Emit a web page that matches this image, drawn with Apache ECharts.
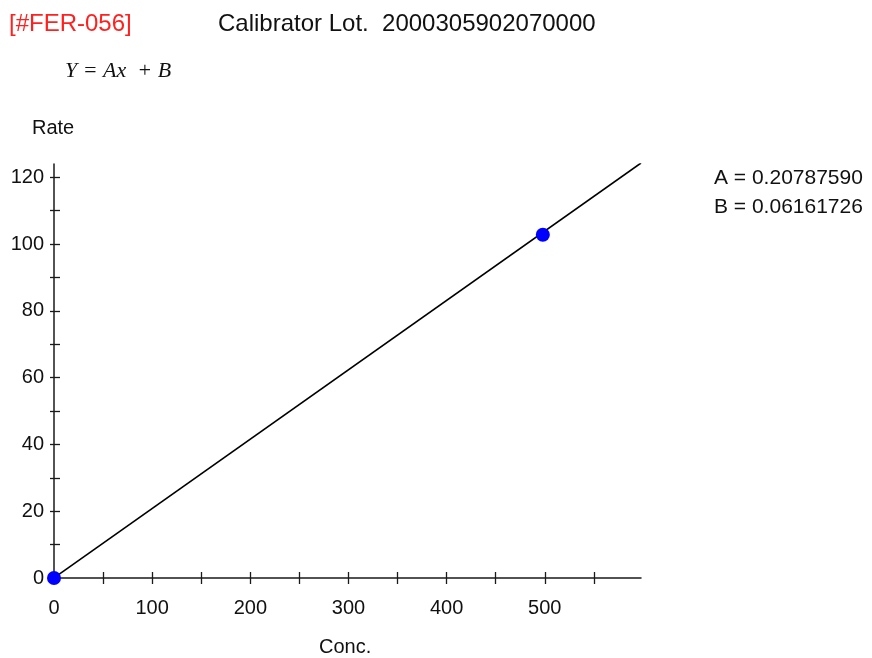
<!DOCTYPE html>
<html>
<head>
<meta charset="utf-8">
<script src="https://cdn.jsdelivr.net/npm/echarts@6/dist/echarts.min.js"></script>
<style>
  html, body { margin: 0; padding: 0; background: #fff; }
  #main { width: 872px; height: 658px; }
</style>
</head>
<body>
<div id="main"></div>
<script>
// calibration points (Conc., Rate)
var calX = [0, 498];
var calY = [0, 102.8];
// fitted line Y = Ax + B, end points
var fitX = [0, 598];
var fitY = [0.06, 124.3];
// ticks and labels
var xTicks = [0, 50, 100, 150, 200, 250, 300, 350, 400, 450, 500, 550];
var xLabels = [0, 100, 200, 300, 400, 500];
var yTicks = [0, 10, 20, 30, 40, 50, 60, 70, 80, 90, 100, 110, 120];
var yLabels = [0, 20, 40, 60, 80, 100, 120];
var coefA = '0.20787590';
var coefB = '0.06161726';

var font = '"Liberation Sans", Arial, sans-serif';
var axisColor = '#1a1a1a';

function pairs(xs, ys) {
  return xs.map(function (x, i) { return [x, ys[i]]; });
}

var myChart = echarts.init(document.getElementById('main'));

var xBase = { type: 'value', min: 0, max: 598, position: 'bottom', splitLine: { show: false } };
var yBase = { type: 'value', min: 0, max: 124, position: 'left', splitLine: { show: false } };

myChart.setOption({
  animation: false,
  backgroundColor: '#fff',
  grid: { left: 54, right: 231, top: 164, bottom: 80 },
  xAxis: [
    Object.assign({}, xBase, {
      axisLine: { show: true, lineStyle: { color: axisColor, width: 1.5 } },
      axisTick: { show: true, inside: false, length: 6, customValues: xTicks, lineStyle: { color: axisColor, width: 1.3 } },
      axisLabel: { show: true, customValues: xLabels, margin: 20, color: '#111', fontFamily: font, fontSize: 20 }
    }),
    Object.assign({}, xBase, {
      axisLine: { show: false },
      axisTick: { show: true, inside: true, length: 6, customValues: xTicks, lineStyle: { color: axisColor, width: 1.3 } },
      axisLabel: { show: false }
    })
  ],
  yAxis: [
    Object.assign({}, yBase, {
      axisLine: { show: true, lineStyle: { color: axisColor, width: 1.5 } },
      axisTick: { show: true, inside: false, length: 4, customValues: yTicks, lineStyle: { color: axisColor, width: 1.3 } },
      axisLabel: { show: true, customValues: yLabels, margin: 10, color: '#111', fontFamily: font, fontSize: 20 }
    }),
    Object.assign({}, yBase, {
      axisLine: { show: false },
      axisTick: { show: true, inside: true, length: 6, customValues: yTicks, lineStyle: { color: axisColor, width: 1.3 } },
      axisLabel: { show: false }
    })
  ],
  series: [
    {
      name: 'fit',
      type: 'line',
      data: pairs(fitX, fitY),
      showSymbol: false,
      symbol: 'none',
      lineStyle: { color: '#000', width: 1.6 },
      clip: true,
      z: 2
    },
    {
      name: 'points',
      type: 'scatter',
      data: pairs(calX, calY),
      symbol: 'circle',
      symbolSize: 14,
      itemStyle: { color: '#0000ff', opacity: 1 },
      clip: false,
      z: 3
    }
  ],
  graphic: [
    { type: 'text', left: 9, top: 12, style: { text: '[#FER-056]', fill: '#ff2020', font: '24px ' + font } },
    { type: 'text', left: 218, top: 12, style: { text: 'Calibrator Lot.  2000305902070000', fill: '#111', font: '24px ' + font } },
    { type: 'text', left: 65, top: 60, style: { text: 'Y = Ax  + B', fill: '#111', font: 'italic 22px "Liberation Serif", "Times New Roman", serif' } },
    { type: 'text', left: 32, top: 118, style: { text: 'Rate', fill: '#111', font: '20px ' + font } },
    { type: 'text', left: 319, top: 637, style: { text: 'Conc.', fill: '#111', font: '20px ' + font } },
    { type: 'text', left: 714, top: 168, style: { text: 'A = ' + coefA, fill: '#111', font: '21px ' + font } },
    { type: 'text', left: 714, top: 197, style: { text: 'B = ' + coefB, fill: '#111', font: '21px ' + font } }
  ]
});
</script>
</body>
</html>
